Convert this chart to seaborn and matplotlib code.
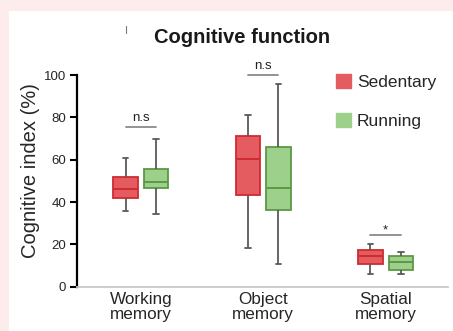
import numpy as np
import pandas as pd
import matplotlib
matplotlib.use("Agg")
import matplotlib.pyplot as plt
from matplotlib.patches import Patch, Rectangle
from matplotlib.lines import Line2D
import seaborn as sns

# ---- data ----
categories = ["Working\nmemory", "Object\nmemory", "Spatial\nmemory"]
groups = ["Sedentary", "Running"]
# five-number summaries per category: min, Q1, median, Q3, max
sedentary_stats = [
    [35.9, 42.0, 46.1, 51.8, 60.9],
    [18.3, 43.1, 60.4, 71.1, 80.9],
    [6.1, 10.6, 14.5, 17.5, 20.0],
]
running_stats = [
    [34.2, 46.4, 49.6, 55.6, 70.0],
    [10.6, 36.4, 46.6, 65.9, 95.6],
    [6.1, 7.8, 11.6, 14.4, 16.4],
]
sig_labels = ["n.s", "n.s", "*"]
sig_heights = [75.3, 100.0, 24.4]
yticks = [0, 20, 40, 60, 80, 100]
title = "Cognitive function"
ylabel = "Cognitive index (%)"

# ---- style ----
fills = {"Sedentary": "#e55c60", "Running": "#9dd18b"}
edges = {"Sedentary": "#cf2a31", "Running": "#5b9946"}
whisker_color = "#595959"

rows = []
for g, stats in zip(groups, [sedentary_stats, running_stats]):
    for cat, vals in zip(categories, stats):
        for v in vals:
            rows.append({"category": cat, "group": g, "value": v})
df = pd.DataFrame(rows)

sns.set_style("white")
plt.rcParams["font.family"] = ["Liberation Sans", "DejaVu Sans"]

W, H = 453, 331
fig = plt.figure(figsize=(W / 100, H / 100), dpi=100)
fig.patch.set_facecolor("#fdecec")
fig.add_artist(Rectangle((9 / W, 0), 1, 1 - 11 / H, transform=fig.transFigure,
                         facecolor="white", edgecolor="none", zorder=-10))

ax_l, ax_r, ax_t, ax_b = 77.3, 448, 75, 286.7
ax = fig.add_axes([ax_l / W, (H - ax_b) / H, (ax_r - ax_l) / W, (ax_b - ax_t) / H])

sns.boxplot(data=df, x="category", y="value", hue="group", order=categories,
            hue_order=groups, palette=fills, saturation=1, width=0.5, gap=0.2,
            whis=(0, 100), linewidth=1.3, legend=False, ax=ax)

for cont, g in zip(ax.containers, groups):
    for b in cont.boxes:
        b.set_edgecolor(edges[g])
        b.set_linewidth(1.3)
    for m in cont.medians:
        m.set_color(edges[g])
        m.set_linewidth(1.4)
    for w in cont.whiskers:
        w.set_color(whisker_color)
        w.set_linewidth(1.3)
    for c in cont.caps:
        xd = np.asarray(c.get_xdata(), dtype=float)
        xc = xd.mean()
        c.set_xdata([xc - 0.022, xc + 0.022])
        c.set_color(whisker_color)
        c.set_linewidth(1.3)

ax.set_xlim(-0.519, 2.51)
ax.set_ylim(0, 100)
ax.set_yticks(yticks)
ax.set_xlabel("")
ax.set_ylabel(ylabel, fontsize=14.5)
ax.yaxis.label.set_va("center")
ax.yaxis.set_label_coords(-0.125, 0.549)

for s in ["top", "right"]:
    ax.spines[s].set_visible(False)
ax.spines["left"].set_color("black")
ax.spines["left"].set_linewidth(1.6)
ax.spines["left"].set_bounds(0, 100)
ax.spines["bottom"].set_color("#c8c8c8")
ax.spines["bottom"].set_linewidth(1.3)

ax.tick_params(axis="y", length=5, width=1.5, color="black", labelsize=9.5,
               pad=3, left=True)
ax.tick_params(axis="x", length=0, labelsize=12.3, pad=4)
for lab in ax.get_xticklabels():
    lab.set_linespacing(1.0)

for i, (lab, h) in enumerate(zip(sig_labels, sig_heights)):
    ax.plot([i - 0.125, i + 0.125], [h, h], color="#8a8a8a", lw=1.3,
            clip_on=False)
    off = 0.8 if lab == "*" else 2.8
    ax.text(i, h + off, lab, ha="center", va="baseline", fontsize=9.5,
            color="#222222", clip_on=False)

handles = [Patch(facecolor=fills[g], edgecolor=fills[g], label=g) for g in groups]
ax.legend(handles=handles, loc="upper left",
          bbox_to_anchor=(336 / W, 1 - 74 / H), bbox_transform=fig.transFigure,
          frameon=False, fontsize=12.5, handlelength=0.86, handleheight=0.86,
          handletextpad=0.35, labelspacing=1.3, borderpad=0, borderaxespad=0)

fig.text(242.5 / W, 1 - 43 / H, title, ha="center", va="baseline",
         fontsize=14.5, fontweight="bold", color="#1a1a1a")
fig.add_artist(Line2D([126.5 / W, 126.5 / W], [1 - 26 / H, 1 - 33 / H],
                      transform=fig.transFigure, color="#777777", lw=0.8))

fig.savefig("out.png", dpi=100, facecolor=fig.get_facecolor())
